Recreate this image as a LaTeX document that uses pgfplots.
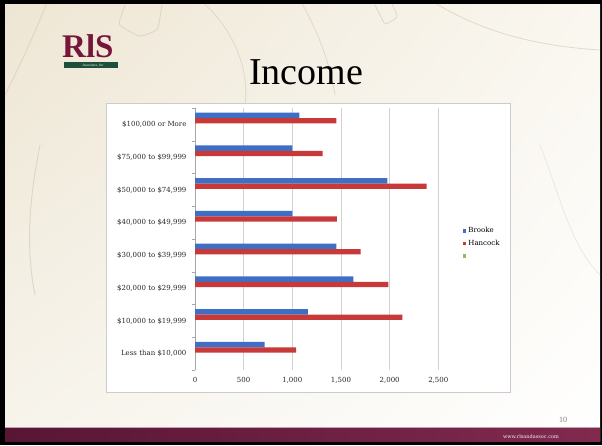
\documentclass[border=0pt]{standalone}
\usepackage{fontspec}
\setmainfont{DejaVu Serif}
\newfontfamily\titlefont{Liberation Serif}
\usepackage{pgfplots}
\pgfplotsset{compat=1.18}
\usetikzlibrary{shadings}
\definecolor{brooke}{RGB}{62,111,196}
\definecolor{hancock}{RGB}{200,58,58}
\definecolor{exgreen}{RGB}{155,187,89}
\definecolor{bgA}{RGB}{238,230,212}
\definecolor{bgB}{RGB}{250,247,240}
\definecolor{bgC}{RGB}{247,244,236}
\definecolor{decor}{RGB}{224,214,194}
\definecolor{maroonA}{RGB}{88,22,52}
\definecolor{maroonB}{RGB}{128,42,78}
\definecolor{logomaroon}{RGB}{120,22,58}
\definecolor{logogreen}{RGB}{30,78,60}
\definecolor{barline}{RGB}{200,160,175}
\begin{document}
\begin{tikzpicture}[x=1pt,y=1pt]
\useasboundingbox (0pt,0pt) rectangle (602pt,445pt);
\fill[black] (0pt,0pt) rectangle (602pt,445pt);
\shade[upper left=bgA, upper right=bgB, lower left=bgC, lower right=white] (5pt,4pt) rectangle (600pt,440pt);
\begin{scope}
\clip (5pt,4pt) rectangle (600pt,440pt);
\draw[decor, line width=0.9pt] (48,445) .. controls (30,400) and (15,370) .. (5,350);
\draw[decor, line width=0.9pt] (40,300) .. controls (30,250) and (25,200) .. (35,150);
\draw[decor, line width=0.9pt, rounded corners=4pt] (125,440) -- (118,420) -- (140,408) -- (158,415) -- (162,440);
\draw[decor, line width=0.7pt] (200,445) .. controls (230,420) and (250,380) .. (245,340);
\draw[decor, line width=0.7pt] (300,445) .. controls (320,410) and (330,380) .. (335,350);
\draw[decor, line width=0.7pt, rounded corners=3pt] (375,440) -- (385,420) -- (398,428) -- (390,445);
\draw[decor, line width=0.7pt] (430,445) .. controls (470,420) and (520,400) .. (600,395);
\draw[decor!60, line width=0.7pt] (540,300) .. controls (560,250) and (570,200) .. (600,170);
\end{scope}
% bottom bar
\shade[left color=maroonA, right color=maroonB] (5pt,4pt) rectangle (600pt,17pt);
\draw[barline, line width=0.6pt] (5pt,17.3pt) -- (600pt,17.3pt);
\node[anchor=base, font=\fontsize{5}{6}\selectfont, text=white!90!gray] at (531pt,7pt) {www.rlsandassoc.com};
\node[anchor=base, font=\titlefont\fontsize{8}{9}\selectfont, text=gray] at (563pt,23pt) {10};
% title
\node[anchor=base, font=\titlefont\fontsize{38}{40}\selectfont, inner sep=0pt] at (306pt,360pt) {Income};
% logo
\node[anchor=base west, font=\titlefont\bfseries\fontsize{33}{35}\selectfont, text=logomaroon, inner sep=0pt, text depth=0pt] at (62pt,387.5pt) {RlS};
\fill[logogreen] (64pt,377pt) rectangle (118pt,383pt);
\node[font=\titlefont\itshape\fontsize{3.5}{4}\selectfont, text=white, inner sep=0pt] at (93pt,379.6pt) {Associates, Inc};
% chart frame
\fill[white] (106pt,53pt) rectangle (510pt,342pt);
\draw[gray!40, line width=0.7pt] (106pt,53pt) rectangle (510pt,342pt);
\begin{axis}[
  at={(195pt,75pt)}, anchor=south west,
  scale only axis, width=243.3pt, height=262pt,
  xmin=0, xmax=2500, ymin=-0.5, ymax=7.5,
  xtick={0,500,...,2500},
  xmajorgrids, grid style={draw=gray!35, line width=0.5pt},
  ytick={0,...,7},
  yticklabels={{Less than \$10,000},{\$10,000 to \$19,999},{\$20,000 to \$29,999},{\$30,000 to \$39,999},{\$40,000 to \$49,999},{\$50,000 to \$74,999},{\$75,000 to \$99,999},{\$100,000 or More}},
  minor ytick={-0.5,0.5,...,7.5},
  axis x line*=bottom, axis y line*=left,
  x axis line style={draw=none},
  y axis line style={-, draw=gray!70, line width=0.5pt},
  tick style={draw=gray!70, line width=0.5pt},
  major tick length=0pt, minor tick length=3pt, tick align=outside,
  xbar, bar width=5.3pt,
  tick label style={font=\fontsize{7}{8}\selectfont, text=black!85},
  /pgf/number format/assume math mode=true,
  /pgf/number format/1000 sep={,},
  xticklabel style={yshift=-4pt},
  yticklabel style={xshift=-5pt},
  legend style={at={(rel axis cs:1.10,0.553)}, anchor=north west, draw=none, fill=none, inner sep=0pt,
    font=\fontsize{7}{8}\selectfont, row sep=2pt},
  legend cell align=left,
  legend image code/.code={\fill[#1, draw=none] (0pt,-1.8pt) rectangle (3.6pt,1.8pt);},
  clip=false
]
\addplot[fill=brooke, draw=none, bar shift=9pt] coordinates {
  (716,0) (1161,1) (1627,2) (1452,3) (1000,4) (1976,5) (1000,6) (1072,7)};
\addlegendentry{Brooke}
\addplot[fill=hancock, draw=none, bar shift=3.6pt] coordinates {
  (1038,0) (2130,1) (1986,2) (1702,3) (1459,4) (2380,5) (1312,6) (1452,7)};
\addlegendentry{Hancock}
\addlegendimage{fill=exgreen, draw=none}
\addlegendentry{\phantom{H}}
\end{axis}
\end{tikzpicture}
\end{document}
